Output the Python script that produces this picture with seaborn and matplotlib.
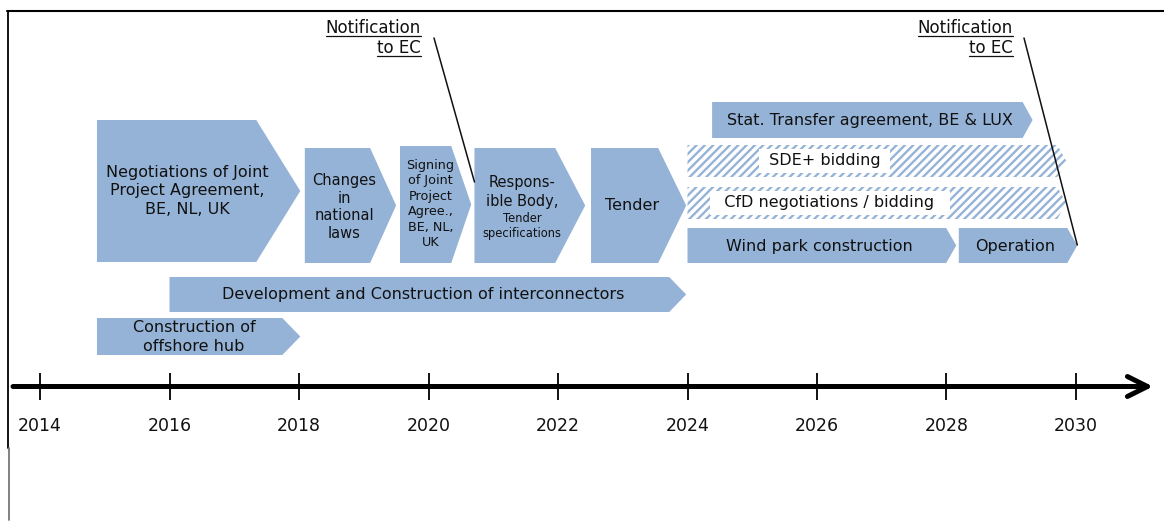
import numpy as np
import matplotlib
matplotlib.use("Agg")
import matplotlib.pyplot as plt
from matplotlib.patches import Polygon
from matplotlib.lines import Line2D
import seaborn as sns

# ---------------- data ----------------
phase_labels = [
    "Negotiations of Joint\nProject Agreement,\nBE, NL, UK",
    "Changes\nin\nnational\nlaws",
    "Signing\nof Joint\nProject\nAgree.,\nBE, NL,\nUK",
    "Respons-\nible Body,",
    "Tender",
    "Stat. Transfer agreement, BE & LUX",
    "SDE+ bidding",
    "CfD negotiations / bidding",
    "Wind park construction",
    "Operation",
    "Development and Construction of interconnectors",
    "Construction of\noffshore hub",
]
phase_start = [2014.88, 2018.09, 2019.56, 2020.71, 2022.51, 2024.38,
               2024.00, 2024.00, 2024.00, 2028.19, 2016.00, 2014.88]
phase_end = [2018.02, 2019.50, 2020.66, 2022.42, 2023.98, 2029.33,
             2029.85, 2029.85, 2028.15, 2030.02, 2023.98, 2018.02]
phase_hatched = [False, False, False, False, False, False,
                 True, True, False, False, False, False]
sub_label = "Tender\nspecifications"          # small text in "Responsible Body"
notification_years = [2020.71, 2030.02]       # leader lines point here
notification_text = ["Notification", "to EC"]
tick_years = [2014, 2016, 2018, 2020, 2022, 2024, 2026, 2028, 2030]

# ---------------- layout (pixel rows, top/bottom) & styles ----------------
row_top = [120, 148, 146, 148, 148, 102, 145, 187, 228, 228, 277, 318]
row_bot = [262, 263, 263, 263, 263, 138, 177, 219, 263, 263, 312, 355]
tip_px = [44, 26, 20, 30, 28, 10, 9, 9, 10, 10, 17, 18]
font_pt = [11.5, 10.5, 9.2, 10.5, 11.5, 11.5, 11.5, 11.5, 11.5, 11.5, 11.5, 11.5]
line_sp = [1.3, 1.22, 1.25, 1.28, 1.2, 1.2, 1.2, 1.2, 1.2, 1.2, 1.2, 1.28]
text_y = [191, 207, 204, 192, 206, 120, 161, 203, 246, 246, 295, 337]
text_dx_px = [0, 0, 0, 0, 0, 0, -50, -45, 0, 0, 0, 0]
hatch_text_pad = {"SDE+": 1, "CfD": 2}        # extra spaces either side

BLUE = "#95B3D7"
W, H, DPI = 1164, 523, 100
PX_PER_YEAR = 64.75
X0_YEAR = 2014 - 40 / PX_PER_YEAR
X1_YEAR = 2014 + (W - 40) / PX_PER_YEAR


def px2yr(p):
    return p / PX_PER_YEAR


sns.set_theme(style="white")
plt.rcParams["font.family"] = ["DejaVu Sans"]
plt.rcParams["hatch.linewidth"] = 1.7

fig = plt.figure(figsize=(W / DPI, H / DPI), dpi=DPI)
ax = fig.add_axes([0, 0, 1, 1])
ax.set_xlim(X0_YEAR, X1_YEAR)
ax.set_ylim(H, 0)
ax.axis("off")

# ---------------- chevron boxes ----------------
for i, lab in enumerate(phase_labels):
    s, e = phase_start[i], phase_end[i]
    t, b = row_top[i], row_bot[i]
    d = px2yr(tip_px[i])
    m = (t + b) / 2
    verts = [(s, t), (e - d, t), (e, m), (e - d, b), (s, b)]
    if phase_hatched[i]:
        poly = Polygon(verts, closed=True, facecolor="white", edgecolor=BLUE,
                       hatch="////", lw=0)
    else:
        poly = Polygon(verts, closed=True, facecolor=BLUE, edgecolor="none", lw=0)
    ax.add_patch(poly)
    cx = (s + e - d / 2) / 2 + px2yr(text_dx_px[i])
    kw = dict(ha="center", va="center", fontsize=font_pt[i], color="#111111",
              linespacing=line_sp[i], zorder=5)
    if phase_hatched[i]:
        n_sp = hatch_text_pad[lab.split()[0]]
        lab = " " * n_sp + lab + " " * n_sp
        kw["bbox"] = dict(facecolor="white", edgecolor="none", pad=3.5)
    ax.text(cx, text_y[i], lab, **kw)

# small sub-label in Responsible Body
i_rb = 3
s, e = phase_start[i_rb], phase_end[i_rb]
cx = (s + e - px2yr(tip_px[i_rb]) / 2) / 2
ax.text(cx, 226, sub_label, ha="center", va="center", fontsize=8.3,
        color="#111111", linespacing=1.15, zorder=5)

# ---------------- timeline axis ----------------
ax_y = 386.5
ax.annotate("", xy=(2014 + (1153 - 40) / PX_PER_YEAR, ax_y),
            xytext=(2014 + (13 - 40) / PX_PER_YEAR, ax_y),
            arrowprops=dict(arrowstyle="->,head_length=1.2,head_width=0.6",
                            lw=3.6, color="black", shrinkA=0, shrinkB=0))
ax.vlines(tick_years, 373, 400, color="#111111", lw=1.4)
for yr in tick_years:
    ax.text(yr, 426, str(yr), ha="center", va="center", fontsize=12.5,
            color="#111111")

# ---------------- notifications ----------------
note_right_px = [421, 1013]
line_start_px = [(434, 38), (1024, 38)]
line_end_y = [182, 245]
fig.canvas.draw()
renderer = fig.canvas.get_renderer()
inv = ax.transData.inverted()
for k, yr in enumerate(notification_years):
    xr = 2014 + (note_right_px[k] - 40) / PX_PER_YEAR
    for j, (txt, yy) in enumerate(zip(notification_text, [28, 48])):
        tobj = ax.text(xr, yy, txt, ha="right", va="center", fontsize=12,
                       color="#111111")
        bb = tobj.get_window_extent(renderer=renderer)
        (ux0, uy), (ux1, _) = inv.transform([(bb.x0, bb.y0 + 1), (bb.x1, bb.y0 + 1)])
        ax.plot([ux0, ux1], [uy, uy], color="#111111", lw=0.9)
    x_start = 2014 + (line_start_px[k][0] - 40) / PX_PER_YEAR
    sns.lineplot(x=[x_start, yr], y=[line_start_px[k][1], line_end_y[k]],
                 ax=ax, color="#111111", lw=1.1, sort=False,
                 estimator=None, legend=False)

ax.set_xlim(X0_YEAR, X1_YEAR)
ax.set_ylim(H, 0)
ax.axis("off")

# ---------------- frame lines ----------------
fig.add_artist(Line2D([7 / W, 1.0], [1 - 11 / H, 1 - 11 / H],
                      transform=fig.transFigure, color="black", lw=1.5))
fig.add_artist(Line2D([7.5 / W, 7.5 / W], [1 - 11 / H, 1 - 448 / H],
                      transform=fig.transFigure, color="black", lw=1.3))
fig.add_artist(Line2D([8.5 / W, 8.5 / W], [1 - 448 / H, 1 - 520 / H],
                      transform=fig.transFigure, color="#777777", lw=1.3))

fig.savefig("out.png", dpi=DPI)
